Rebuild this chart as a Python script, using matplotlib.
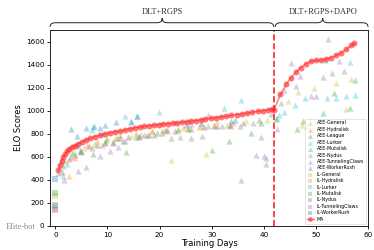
import matplotlib
matplotlib.use("Agg")
import matplotlib.pyplot as plt
from matplotlib.path import Path
from matplotlib.patches import PathPatch
import matplotlib.transforms as mtransforms

# ---------------- data ----------------
ma_days = [0.6, 0.9, 1.2, 1.5, 1.9, 2.3, 2.7, 3.2, 3.8, 4.4, 5.1, 5.9, 6.7, 7.6, 8.6, 9.6, 10.5,
           11.5, 12.5, 13.4, 14.4, 15.3, 16.2, 17.1, 18.0, 18.9, 19.8, 20.7, 21.6, 22.5, 23.4,
           24.3, 25.2, 26.1, 27.0, 27.9, 28.8, 29.8, 30.8, 31.8, 32.8, 33.8, 34.8, 35.8, 36.8,
           37.8, 38.8, 39.8, 40.8, 41.5, 42.0, 43.2, 44.3, 45.2, 46.2, 47.1, 48.1, 49.1, 50.0,
           51.0, 52.0, 52.9, 53.9, 54.8, 55.8, 56.8, 57.4]
ma_vals = [485, 530, 565, 595, 625, 650, 668, 684, 698, 714, 729, 746, 761, 776, 787, 800, 810,
           818, 825, 835, 845, 852, 858, 864, 870, 875, 880, 884, 888, 892, 896,
           900, 905, 910, 915, 920, 926, 933, 940, 947, 953, 960, 966, 973, 980,
           987, 994, 1000, 1008, 1015, 1010, 1142, 1228, 1286, 1335, 1373, 1407, 1430, 1436,
           1438, 1450, 1459, 1479, 1502, 1531, 1566, 1583]

aee_general_d = [1.8, 3.5, 5.5, 7.5, 9.5, 11.5, 14.5, 16.5, 18.5, 20.5, 22.1, 23.5, 25.5, 27.9,
                 29.0, 31.1, 33.0, 36.5, 40.6, 44.6, 46.5, 48.3, 49.6, 53.8, 55.7, 56.8, 47.3]
aee_general_v = [560, 640, 680, 715, 730, 760, 780, 800, 820, 830, 571, 845, 850, 868,
                 623, 911, 880, 911, 919, 1084, 1162, 870, 1200, 1243, 1018, 1272, 874]
aee_hydralisk_d = [2.6, 3.8, 6.0, 8.0, 10.0, 12.5, 15.5, 18.5, 21.5, 24.5, 27.5, 30.5, 34.0]
aee_hydralisk_v = [430, 594, 700, 740, 760, 790, 810, 825, 840, 850, 860, 875, 890]
aee_league_d = [1.2, 2.6, 3.8, 5.0, 6.5, 8.0, 9.5, 11.0, 12.5, 14.0, 16.0, 18.0, 20.5, 23.0,
                26.0, 28.5, 31.0, 33.5, 36.0, 39.0]
aee_league_v = [470, 580, 620, 650, 690, 700, 720, 730, 760, 770, 780, 790, 810, 820,
                840, 860, 870, 880, 895, 920]
aee_lurker_d = [1.5, 2.2, 4.3, 7.0, 7.2, 9.0, 13.4, 14.6, 15.7, 19.9, 32.4, 35.6, 42.6, 43.0,
                43.9, 46.0, 48.0, 51.8, 52.2, 53.9, 55.7, 56.6, 57.5]
aee_lurker_v = [435, 542, 690, 830, 860, 800, 954, 911, 954, 992, 1027, 1090, 940, 960,
                989, 1047, 1107, 1438, 1107, 1113, 1127, 1424, 1133]
aee_mutalisk_d = [3.2, 4.8, 7.3, 9.8, 11.8, 13.6, 15.5, 17.5, 19.5, 21.5, 23.5, 25.5, 30.1,
                  33.3, 37.5, 39.4, 42.3, 46.4, 47.5, 48.3, 51.4, 53.4, 56.5, 57.5]
aee_mutalisk_v = [629, 650, 623, 750, 760, 643, 775, 790, 810, 820, 830, 840, 657,
                  738, 810, 897, 925, 839, 911, 870, 978, 1156, 1027, 1266]
aee_nydus_d = [0.45, 1.5, 3.0, 5.0, 7.0, 9.0, 11.0, 13.0, 16.0, 19.0, 22.1, 24.0, 26.0, 28.2,
               29.2, 30.5, 32.0, 33.5, 35.5, 38.0, 40.4, 41.4, 43.3, 43.8, 46.2, 51.3, 55.4]
aee_nydus_v = [456, 520, 600, 640, 680, 700, 720, 740, 770, 790, 760, 776, 767, 781,
               868, 868, 868, 868, 870, 890, 536, 969, 1070, 1176, 1214, 1292, 1343]
aee_tunneling_d = [1.7, 4.3, 5.9, 8.6, 10.5, 12.1, 13.4, 17.0, 21.0, 26.0, 29.3, 35.7, 38.5,
                   39.4, 40.1, 40.4, 42.5, 45.2, 47.0, 49.1, 50.0, 52.3, 53.1, 54.4]
aee_tunneling_v = [398, 473, 508, 608, 651, 686, 738, 790, 830, 882, 963, 398, 617,
                   776, 608, 594, 842, 1416, 1300, 1127, 1127, 1624, 1329, 1430]
aee_workerrush_d = [3.0, 4.1, 5.8, 7.5, 8.6, 9.5, 11.7, 14.6, 15.7, 25.0, 28.0, 33.7, 34.5]
aee_workerrush_v = [839, 781, 850, 870, 853, 880, 902, 905, 954, 880, 895, 911, 920]

il_names = ["IL-General", "IL-Hydralisk", "IL-Lurker", "IL-Mutalisk", "IL-Nydus",
            "IL-TunnelingClaws", "IL-WorkerRush"]
il_days = [0, 0, 0, 0, 0, 0, 0]
il_vals = [260, 145, 170, 285, 185, 140, 410]

x_ticks = [0, 10, 20, 30, 40, 50, 60]
y_ticks = [0, 200, 400, 600, 800, 1000, 1200, 1400, 1600]
split_day = 42

# ---------------- style ----------------
c = {"General": "#bcbd22", "Hydralisk": "#ff7f0e", "League": "#8c564b", "Lurker": "#17becf",
     "Mutalisk": "#2ca02c", "Nydus": "#7f7f7f", "TunnelingClaws": "#9467bd",
     "WorkerRush": "#1f77b4"}

fig = plt.figure(figsize=(3.74, 2.5), dpi=100)
ax = fig.add_axes([0.134, 0.096, 0.850, 0.784])

aee = [("AEE-General", aee_general_d, aee_general_v, c["General"]),
       ("AEE-Hydralisk", aee_hydralisk_d, aee_hydralisk_v, c["Hydralisk"]),
       ("AEE-League", aee_league_d, aee_league_v, c["League"]),
       ("AEE-Lurker", aee_lurker_d, aee_lurker_v, c["Lurker"]),
       ("AEE-Mutalisk", aee_mutalisk_d, aee_mutalisk_v, c["Mutalisk"]),
       ("AEE-Nydus", aee_nydus_d, aee_nydus_v, c["Nydus"]),
       ("AEE-TunnelingClaws", aee_tunneling_d, aee_tunneling_v, c["TunnelingClaws"]),
       ("AEE-WorkerRush", aee_workerrush_d, aee_workerrush_v, c["WorkerRush"])]
for name, d, v, col in aee:
    ax.scatter(d, v, marker="^", s=20, color=col, alpha=0.32, linewidths=0, label=name)

il_cols = [c["General"], c["Hydralisk"], c["Lurker"], c["Mutalisk"], c["Nydus"],
           c["TunnelingClaws"], c["WorkerRush"]]
for name, d, v, col in zip(il_names, il_days, il_vals, il_cols):
    ax.scatter([d], [v], marker="s", s=20, color=col, alpha=0.32, linewidths=0, label=name)

ax.plot(ma_days, ma_vals, color="#ff3030", lw=1.0, marker="o", ms=4.3, alpha=0.65,
        markeredgewidth=0, label="MA")

ax.axvline(split_day, color="#ff2020", ls="--", lw=1.2)

ax.set_xlim(-1, 60)
ax.set_ylim(0, 1700)
ax.set_xticks(x_ticks)
ax.set_yticks(y_ticks)
ax.tick_params(labelsize=5.2, length=2.5, width=0.6, pad=1.5)
for s in ax.spines.values():
    s.set_linewidth(0.6)
ax.set_xlabel("Training Days", fontsize=6, labelpad=1)
ax.set_ylabel("ELO Scores", fontsize=6, labelpad=2)

leg = ax.legend(loc="lower right", fontsize=3.4, labelspacing=0.3, handlelength=1.5,
                handletextpad=0.6, borderpad=0.4, markerscale=0.8, framealpha=0.9,
                edgecolor="#cccccc", fancybox=True)
leg.get_frame().set_linewidth(0.4)

fig.text(6 / 374, 1 - 227 / 250, "Elite-bot", family="Liberation Serif", fontsize=6,
         color="#888888", ha="left", va="center")

# braces
trans = mtransforms.blended_transform_factory(ax.transData, ax.transAxes)


def brace(x0, x1, xm, yb=1.016, yl=1.037, yt=1.06, r=1.0):
    verts = [(x0, yb), (x0, yl), (x0 + r, yl),
             (xm - r, yl), (xm, yl), (xm, yt),
             (xm, yl), (xm + r, yl),
             (x1 - r, yl), (x1, yl), (x1, yb)]
    codes = [Path.MOVETO, Path.CURVE3, Path.CURVE3,
             Path.LINETO, Path.CURVE3, Path.CURVE3,
             Path.CURVE3, Path.CURVE3,
             Path.LINETO, Path.CURVE3, Path.CURVE3]
    p = PathPatch(Path(verts, codes), transform=trans, fill=False, lw=0.7,
                  edgecolor="#222222", clip_on=False)
    ax.add_patch(p)


brace(-1, 41.9, 20.5)
brace(42.2, 60, 51.3)
ax.text(20.5, 1.07, "DLT+RGPS", transform=trans, ha="center", va="bottom",
        family="Liberation Serif", fontsize=6, color="#333333")
ax.text(51.3, 1.07, "DLT+RGPS+DAPO", transform=trans, ha="center", va="bottom",
        family="Liberation Serif", fontsize=6, color="#333333")

fig.savefig("out.png", dpi=100)
